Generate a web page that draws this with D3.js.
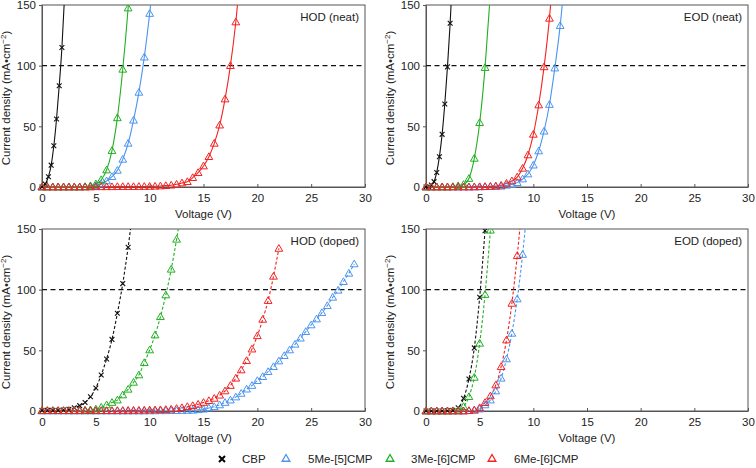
<!DOCTYPE html>
<html><head><meta charset="utf-8">
<script src="https://cdn.jsdelivr.net/npm/d3@7"></script>
<style>body{margin:0;background:#fff}svg{display:block}text{font-family:"Liberation Sans",Arial,Helvetica,sans-serif}</style>
</head><body><svg id="c" width="756" height="468"></svg>
<script>
// ---- data ----
const seriesNames = ["CBP","5Me-[5]CMP","3Me-[6]CMP","6Me-[6]CMP"];
const seriesColors = ["#111111","#4b94f0","#22b022","#f42222"];
const panelTitles = ["HOD (neat)","EOD (neat)","HOD (doped)","EOD (doped)"];
const xTicks = [0,5,10,15,20,25,30];
const yTicks = [0,50,100,150];
const refLine = 100;

// HOD neat
const hn_cbp_v = [0,0.3,0.6,0.85,1.1,1.35,1.6,1.85,2.1];
const hn_cbp_j = [0,2.5,8.5,18,34,56,83.5,115,158];
const hn_5me_v = [0,0.5,1,1.5,2,2.5,3,3.5,4,4.5,5,5.5,6,6.5,7,7.5,8,8.5,9,9.5,10,10.5];
const hn_5me_j = [0,0,0,0,0,0,0,0,0,0.3,1,2.5,5,8.5,13.7,22.8,36,55,78,107,143,185];
const hn_3me_v = [0,0.5,1,1.5,2,2.5,3,3.5,4,4.5,5,5.5,6,6.5,7,7.5,8,8.5];
const hn_3me_j = [0,0,0,0,0,0,0,0,0.3,1,2.5,6,14,30,57,97,147.5,210];
const hn_6me_v = [0,0.5,1,1.5,2,2.5,3,3.5,4,4.5,5,5.5,6,6.5,7,7.5,8,8.5,9,9.5,10,10.5,11,11.5,12,12.5,13,13.5,14,14.5,15,15.5,16,16.5,17,17.5,18,18.5];
const hn_6me_j = [0,0,0,0,0,0,0,0,0,0,0.2,0.2,0.2,0.2,0.3,0.3,0.3,0.3,0.4,0.4,0.5,0.6,0.8,1.1,1.5,2.2,3.3,4.4,7.7,11.8,17.3,25,36,51,72.5,100,136,185];

// EOD neat
const en_cbp_v = [0,0.25,0.5,0.75,1,1.25,1.5,1.75,2,2.25,2.5];
const en_cbp_j = [0,0.5,1.6,4.4,12,25,43.4,68.4,99,135,180];
const en_5me_v = [0,0.5,1,1.5,2,2.5,3,3.5,4,4.5,5,5.5,6,6.5,7,7.5,8,8.5,9,9.5,10,10.5,11,11.5,12,12.5,13];
const en_5me_j = [0,0,0,0,0,0,0,0,0,0,0.1,0.2,0.3,0.4,0.6,1.4,2,3.6,6.6,10.7,18,29.7,46,68,98,133,180];
const en_3me_v = [0,0.5,1,1.5,2,2.5,3,3.5,4,4.5,5,5.5,6];
const en_3me_j = [0,0,0,0,0,0.3,1,2,7,23.6,53,98.4,160];
const en_6me_v = [0,0.5,1,1.5,2,2.5,3,3.5,4,4.5,5,5.5,6,6.5,7,7.5,8,8.5,9,9.5,10,10.5,11,11.5,12];
const en_6me_j = [0,0,0,0,0,0,0,0,0,0.1,0.2,0.3,0.5,0.8,1.4,3,5,8.2,15.4,26.4,43.4,67.6,99,139,195];

// HOD doped
const hd_cbp_v = [0,0.5,1,1.5,2,2.5,3,3.5,4,4.5,5,5.5,6,6.5,7,7.5,8,8.5];
const hd_cbp_j = [0.5,0.5,0.5,0.6,0.8,1.4,2.7,4.4,7,11.8,19,29.7,42.9,59,80.5,105,135,170];
const hd_5me_v = [0,0.5,1,1.5,2,2.5,3,3.5,4,4.5,5,5.5,6,6.5,7,7.5,8,8.5,9,9.5,10,10.5,11,11.5,12,12.5,13,13.5,14,14.5,15,15.5,16,16.5,17,17.5,18,18.5,19,19.5,20,20.5,21,21.5,22,22.5,23,23.5,24,24.5,25,25.5,26,26.5,27,27.5,28,28.5,29];
const hd_5me_j = [0,0,0,0,0,0,0,0,0,0,0,0,0,0,0,0,0,0,0,0,0.1,0.1,0.2,0.2,0.3,0.3,0.4,0.5,0.6,1,1.5,2.5,3.5,5,7,9,11.5,14.5,18,21,25,28.3,32.4,36.5,41.2,45.6,50.3,55,60,65.4,70.9,75.8,81,86.8,93.7,99.5,106.6,113.5,121.2];
const hd_3me_v = [0,0.5,1,1.5,2,2.5,3,3.5,4,4.5,5,5.5,6,6.5,7,7.5,8,8.5,9,9.5,10,10.5,11,11.5,12,12.5,13];
const hd_3me_j = [0.3,0.3,0.3,0.3,0.3,0.3,0.3,0.4,0.7,1,1.6,3,5,7,9,13.2,17.9,23.6,29.7,39.8,50.3,62.6,77.7,95.6,116.8,141.5,170];
const hd_6me_v = [0,0.5,1,1.5,2,2.5,3,3.5,4,4.5,5,5.5,6,6.5,7,7.5,8,8.5,9,9.5,10,10.5,11,11.5,12,12.5,13,13.5,14,14.5,15,15.5,16,16.5,17,17.5,18,18.5,19,19.5,20,20.5,21,21.5,22];
const hd_6me_j = [0.3,0.3,0.3,0.3,0.3,0.3,0.3,0.3,0.3,0.3,0.3,0.3,0.3,0.3,0.4,0.4,0.5,0.5,0.6,0.7,0.8,0.9,1,1.2,1.5,2,2.7,3.6,4.4,5.5,7,8.5,10.4,13,16.5,21,27,33.8,41.5,51,62,75.5,91,111,134];

// EOD doped
const ed_cbp_v = [0,0.5,1,1.5,2,2.5,3,3.5,4,4.5,5,5.5];
const ed_cbp_j = [0,0,0,0,0.2,0.5,2.7,10.4,26.4,52,93.7,148.6];
const ed_5me_v = [0,0.5,1,1.5,2,2.5,3,3.5,4,4.5,5,5.5,6,6.5,7,7.5,8,8.5,9,9.5];
const ed_5me_j = [0,0,0,0,0,0,0,0,0.2,0.5,1.6,5,9,16.5,27,42.9,64,92.3,129,175];
const ed_3me_v = [0,0.5,1,1.5,2,2.5,3,3.5,4,4.5,5,5.5,6];
const ed_3me_j = [0,0,0,0,0,0.2,0.8,3.6,11.8,27.7,55.8,96,149];
const ed_6me_v = [0,0.5,1,1.5,2,2.5,3,3.5,4,4.5,5,5.5,6,6.5,7,7.5,8,8.5,9];
const ed_6me_j = [0,0,0,0,0,0,0,0,0.3,0.8,2.7,6.9,12.4,21.4,36.5,58.5,88.7,128,175];

// ---- drawing ----
const zip = (v,j)=>v.map((x,i)=>({v:x,j:j[i]}));
const panels = [
  {x:42,y:5,w:323,h:182,dashed:false,title:panelTitles[0],
   s:[zip(hn_cbp_v,hn_cbp_j),zip(hn_5me_v,hn_5me_j),zip(hn_3me_v,hn_3me_j),zip(hn_6me_v,hn_6me_j)]},
  {x:426,y:5,w:322,h:182,dashed:false,title:panelTitles[1],
   s:[zip(en_cbp_v,en_cbp_j),zip(en_5me_v,en_5me_j),zip(en_3me_v,en_3me_j),zip(en_6me_v,en_6me_j)]},
  {x:42,y:229,w:323,h:182,dashed:true,title:panelTitles[2],
   s:[zip(hd_cbp_v,hd_cbp_j),zip(hd_5me_v,hd_5me_j),zip(hd_3me_v,hd_3me_j),zip(hd_6me_v,hd_6me_j)]},
  {x:426,y:229,w:322,h:182,dashed:true,title:panelTitles[3],
   s:[zip(ed_cbp_v,ed_cbp_j),zip(ed_5me_v,ed_5me_j),zip(ed_3me_v,ed_3me_j),zip(ed_6me_v,ed_6me_j)]}
];
const svg = d3.select("#c");
const axisCol = "#555";
const tri = d3.symbol().type(d3.symbolTriangle).size(26);

function drawMarker(g, k, col){
  if(k===0){
    g.append("path").attr("d","M-2.4,-2.4L2.4,2.4M-2.4,2.4L2.4,-2.4")
      .attr("stroke",col).attr("stroke-width",1.1).attr("fill","none");
  } else {
    g.append("path").attr("d",tri()).attr("transform","translate(0,0.6)")
      .attr("stroke",col).attr("stroke-width",1).attr("fill","none");
  }
}

panels.forEach((p,pi)=>{
  const g = svg.append("g").attr("transform",`translate(${p.x},${p.y})`);
  const xs = d3.scaleLinear().domain([0,30]).range([0,p.w]);
  const ys = d3.scaleLinear().domain([0,150]).range([p.h,0]);
  const cid = "clip"+pi;
  g.append("clipPath").attr("id",cid).append("rect")
    .attr("x",-8).attr("y",0).attr("width",p.w+16).attr("height",p.h+8);

  // frame
  g.append("rect").attr("width",p.w).attr("height",p.h).attr("fill","none")
    .attr("stroke",axisCol).attr("stroke-width",1);

  // axes
  const xa = g.append("g").attr("transform",`translate(0,${p.h})`)
    .call(d3.axisBottom(xs).tickValues(xTicks).tickSizeInner(-3).tickSizeOuter(0).tickPadding(7));
  const ya = g.append("g")
    .call(d3.axisLeft(ys).tickValues(yTicks).tickSizeInner(3).tickSizeOuter(0).tickPadding(3));
  [xa,ya].forEach(a=>{
    a.select(".domain").attr("stroke",axisCol);
    a.selectAll(".tick line").attr("stroke",axisCol);
    a.selectAll(".tick text").attr("font-size",11.5).attr("fill","#222")
      .style("font-family",'"Liberation Sans",Arial,sans-serif');
  });

  // reference dashed line
  g.append("line").attr("x1",0).attr("x2",p.w).attr("y1",ys(refLine)).attr("y2",ys(refLine))
    .attr("stroke","#111").attr("stroke-width",1.1).attr("stroke-dasharray","5,3.5");

  // panel title
  g.append("text").attr("x",p.w-6).attr("y",16).attr("text-anchor","end")
    .attr("font-size",11.5).attr("fill","#222").text(p.title);

  // axis titles
  g.append("text").attr("x",p.w/2).attr("y",p.h+31).attr("text-anchor","middle")
    .attr("font-size",11.5).attr("fill","#222").text("Voltage (V)");
  const yt = g.append("text").attr("transform",`translate(-32,${p.h/2+2}) rotate(-90)`)
    .attr("text-anchor","middle").attr("font-size",11.5).attr("fill","#222");
  yt.append("tspan").text("Current density (mA•cm");
  yt.append("tspan").attr("dy",-4).attr("font-size",8).text("−2");
  yt.append("tspan").attr("dy",4).text(")");

  // data
  const plot = g.append("g").attr("clip-path",`url(#${cid})`);
  const line = d3.line().x(d=>xs(d.v)).y(d=>ys(d.j)).curve(d3.curveMonotoneX);
  const order = [0,1,2,3];
  order.forEach(k=>{
    plot.append("path").datum(p.s[k]).attr("d",line).attr("fill","none")
      .attr("stroke",seriesColors[k]).attr("stroke-width",1.1)
      .attr("stroke-dasharray",p.dashed?"3,2":null);
  });
  order.forEach(k=>{
    p.s[k].filter(d=>d.j<=152).forEach(d=>{
      const mg = plot.append("g").attr("transform",`translate(${xs(d.v)},${ys(d.j)})`);
      drawMarker(mg,k,seriesColors[k]);
    });
  });
});

// legend
const legX = [222,286,390,492];
const legTX = [242,308,411,514];
const lg = svg.append("g");
seriesNames.forEach((n,k)=>{
  const mg = lg.append("g").attr("transform",`translate(${legX[k]},459)`);
  if(k===0){
    mg.append("path").attr("d","M-3,-3L3,3M-3,3L3,-3").attr("stroke","#000").attr("stroke-width",2);
  } else {
    mg.append("path").attr("d",tri()).attr("stroke",seriesColors[k]).attr("stroke-width",1.3).attr("fill","none");
  }
  lg.append("text").attr("x",legTX[k]).attr("y",463).attr("font-size",11.5).attr("fill","#222").text(n);
});
</script></body></html>
